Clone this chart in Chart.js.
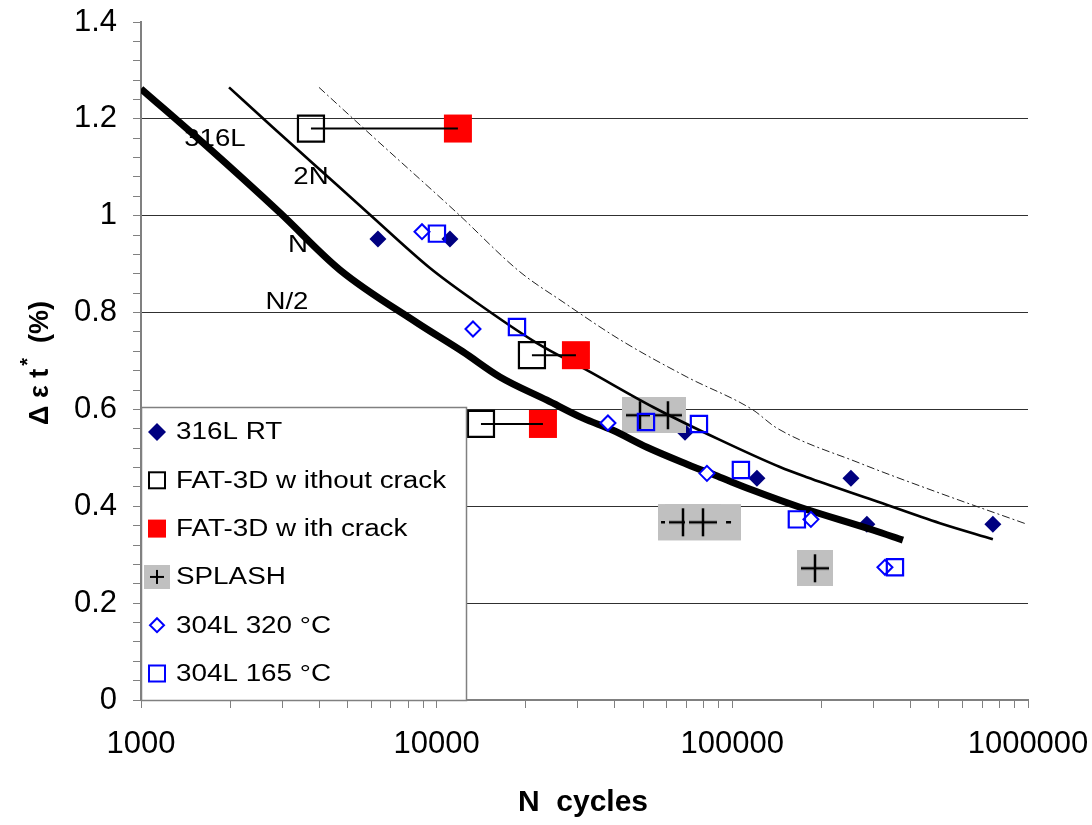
<!DOCTYPE html>
<html>
<head>
<meta charset="utf-8">
<script src="https://cdn.jsdelivr.net/npm/chart.js@4.4.0/dist/chart.umd.min.js"></script>
<style>
  html, body { margin: 0; padding: 0; background: #fff; }
</style>
</head>
<body>
<canvas id="chart" width="1092" height="825"></canvas>
<script>
// ---------------- Data ----------------
const rtX = [6330, 11090, 69160, 121100, 251800, 285200, 760700];
const rtY = [0.952, 0.952, 0.553, 0.458, 0.458, 0.363, 0.363];

const fatNoCrackX = [3757, 21000, 14120];
const fatNoCrackY = [1.18, 0.712, 0.57];
const fatCrackX = [11800, 29580, 22880];
const fatCrackY = [1.18, 0.712, 0.57];

const splashX = [48700, 60540, 68070, 79560, 190300];
const splashY = [0.588, 0.588, 0.367, 0.367, 0.272];
const splashErrLo = [null, null, 57400, 57400, null];
const splashErrHi = [null, null, 104500, 104500, null];

const l320X = [8920, 13270, 37960, 82050, 184400, 328200];
const l320Y = [0.967, 0.766, 0.572, 0.468, 0.373, 0.274];
const l165X = [10020, 18690, 51040, 77100, 106900, 165300, 354800];
const l165Y = [0.963, 0.770, 0.574, 0.570, 0.475, 0.373, 0.274];

// thick curve
const curveAX = [1000, 1672, 2951, 4710, 8580, 12270, 16370, 23610, 31240, 39460, 51420, 70210, 90800, 117400, 169300, 298700, 377600];
const curveAY = [1.262, 1.143, 1.006, 0.888, 0.779, 0.719, 0.667, 0.619, 0.582, 0.557, 0.522, 0.487, 0.460, 0.433, 0.398, 0.351, 0.330];
// medium curve
const curveBX = [1985, 2795, 3817, 5950, 9490, 13270, 21830, 32220, 53860, 90800, 144900, 178700, 298700, 503700, 760700];
const curveBY = [1.265, 1.182, 1.108, 1.002, 0.892, 0.826, 0.737, 0.681, 0.605, 0.537, 0.481, 0.460, 0.413, 0.365, 0.332];
// thin dash-dot curve
const curveCX = [3999, 6090, 11710, 19130, 26740, 41690, 70210, 117400, 141000, 270100, 503700, 991600];
const curveCY = [1.265, 1.163, 1.006, 0.884, 0.822, 0.744, 0.667, 0.599, 0.562, 0.489, 0.427, 0.363];

const curveLabels = ["316L", "2N", "N", "N/2"];
const curveLabelX = [1779, 3757, 3396, 3116];
const curveLabelY = [1.157, 1.079, 0.938, 0.822];

const legendLabels = ["316L RT", "FAT-3D w ithout crack", "FAT-3D w ith crack", "SPLASH", "304L 320 °C", "304L 165 °C"];

const xTickLabels = ["1000", "10000", "100000", "1000000"];
const yTickLabels = ["0", "0.2", "0.4", "0.6", "0.8", "1", "1.2", "1.4"];

const xTitle = "N  cycles";

// ---------------- Helpers ----------------
const FONT = '"Liberation Sans", Arial, Helvetica, sans-serif';

const pts = (xs, ys) => xs.map((x, i) => ({ x, y: ys[i] }));

// log axis ticks: 1..9 per decade
const xTickValues = [];
for (let d = 1000; d < 1000000; d *= 10) {
  for (let m = 1; m <= 9; m++) xTickValues.push(m * d);
}
xTickValues.push(1000000);

const yTickValues = [];
for (let i = 0; i <= 35; i++) yTickValues.push(Math.round(i * 0.04 * 1000) / 1000);

function yMajorIndex(v) {
  const k = Math.round(v / 0.2);
  return Math.abs(v - k * 0.2) < 1e-6 ? k : -1;
}

function splashMarker(w, h, plus, lw) {
  const c = document.createElement("canvas");
  c.width = w; c.height = h;
  const g = c.getContext("2d");
  g.fillStyle = "#c0c0c0";
  g.fillRect(0, 0, w, h);
  g.strokeStyle = "#000";
  g.lineWidth = lw;
  const cx = w / 2, cy = h / 2, p = plus / 2;
  g.beginPath();
  g.moveTo(cx - p, cy); g.lineTo(cx + p, cy);
  g.moveTo(cx, cy - p); g.lineTo(cx, cy + p);
  g.stroke();
  return c;
}
const splashImg = splashMarker(36, 36, 28, 2.5);

// ---------------- Plugins ----------------
const splashBars = {
  id: "splashBars",
  beforeDatasetsDraw(chart) {
    const { ctx, scales: { x, y } } = chart;
    ctx.save();
    splashX.forEach((v, i) => {
      if (splashErrLo[i] == null) return;
      const x0 = x.getPixelForValue(splashErrLo[i]);
      const x1 = x.getPixelForValue(splashErrHi[i]);
      const py = y.getPixelForValue(splashY[i]);
      ctx.fillStyle = "#c0c0c0";
      ctx.fillRect(x0 - 3, py - 18, x1 - x0 + 6, 36);
      ctx.strokeStyle = "#000";
      ctx.lineWidth = 2.5;
      ctx.setLineDash([5, 8]);
      ctx.beginPath();
      ctx.moveTo(x0, py);
      ctx.lineTo(x1, py);
      ctx.stroke();
    });
    ctx.restore();
  }
};

const extras = {
  id: "extras",
  afterDraw(chart) {
    const { ctx, chartArea, scales: { x, y } } = chart;
    ctx.save();

    // curve labels
    ctx.fillStyle = "#000";
    ctx.font = `24px ${FONT}`;
    ctx.textAlign = "center";
    ctx.textBaseline = "middle";
    curveLabels.forEach((t, i) => {
      ctx.save();
      ctx.translate(x.getPixelForValue(curveLabelX[i]), y.getPixelForValue(curveLabelY[i]));
      ctx.scale(1.15, 1);
      ctx.fillText(t, 0, 0);
      ctx.restore();
    });

    // legend box
    const lx = chartArea.left, ly = 407, lw = 325, lh = chartArea.bottom - 407;
    ctx.fillStyle = "#fff";
    ctx.fillRect(lx, ly, lw, lh);
    ctx.strokeStyle = "#808080";
    ctx.lineWidth = 1.5;
    ctx.strokeRect(lx + 0.5, ly + 0.5, lw, lh);

    const mx = 157;
    legendLabels.forEach((t, i) => {
      const ry = 432 + i * 48.3;
      ctx.save();
      ctx.setLineDash([]);
      if (i === 0) {
        ctx.fillStyle = "#000080";
        ctx.beginPath();
        ctx.moveTo(mx, ry - 9); ctx.lineTo(mx + 9, ry); ctx.lineTo(mx, ry + 9); ctx.lineTo(mx - 9, ry);
        ctx.closePath(); ctx.fill();
      } else if (i === 1) {
        ctx.strokeStyle = "#000"; ctx.lineWidth = 2;
        ctx.strokeRect(mx - 8, ry - 8, 16, 16);
      } else if (i === 2) {
        ctx.fillStyle = "#ff0000";
        ctx.fillRect(mx - 9, ry - 9, 18, 18);
      } else if (i === 3) {
        ctx.drawImage(splashMarker(26, 24, 14, 2), mx - 13, ry - 12);
      } else if (i === 4) {
        ctx.strokeStyle = "#0000ff"; ctx.lineWidth = 2;
        ctx.beginPath();
        ctx.moveTo(mx, ry - 7); ctx.lineTo(mx + 7, ry); ctx.lineTo(mx, ry + 7); ctx.lineTo(mx - 7, ry);
        ctx.closePath(); ctx.stroke();
      } else {
        ctx.strokeStyle = "#0000ff"; ctx.lineWidth = 2;
        ctx.strokeRect(mx - 8, ry - 8, 16, 16);
      }
      ctx.fillStyle = "#000";
      ctx.font = `23px ${FONT}`;
      ctx.textAlign = "left";
      ctx.textBaseline = "middle";
      ctx.translate(176, ry + 1);
      ctx.scale(1.21, 1);
      ctx.fillText(t, 0, 0);
      ctx.restore();
    });

    // x title
    ctx.fillStyle = "#000";
    ctx.font = `bold 30px ${FONT}`;
    ctx.textAlign = "center";
    ctx.textBaseline = "middle";
    ctx.fillText(xTitle, 583, 803);

    // y title: Δεt* (%)
    ctx.save();
    ctx.translate(48, 425);
    ctx.rotate(-Math.PI / 2);
    ctx.textAlign = "left";
    ctx.textBaseline = "alphabetic";
    ctx.font = `bold 27px ${FONT}`;
    let cx = 0;
    ctx.fillText("Δ ε t", cx, 0);
    cx += ctx.measureText("Δ ε t").width + 3;
    ctx.font = `bold 20px ${FONT}`;
    ctx.fillText("*", cx, -14);
    cx += ctx.measureText("*").width;
    ctx.font = `bold 27px ${FONT}`;
    ctx.fillText("  (%)", cx, 0);
    ctx.restore();

    ctx.restore();
  }
};

// ---------------- Chart ----------------
const connectors = fatNoCrackX.map((v, i) => ({
  data: [{ x: v, y: fatNoCrackY[i] }, { x: fatCrackX[i], y: fatCrackY[i] }],
  showLine: true, borderColor: "#000", borderWidth: 2, pointRadius: 0, order: 0
}));

const ctx = document.getElementById("chart").getContext("2d");
new Chart(ctx, {
  type: "scatter",
  data: {
    datasets: [
      { label: "316L RT", data: pts(rtX, rtY), pointStyle: "rectRot", pointRadius: 8.5,
        backgroundColor: "#000080", borderColor: "#000080", borderWidth: 0, order: 9 },
      { label: "SPLASH", data: pts(splashX, splashY), pointStyle: splashImg, pointRadius: 5, order: 8 },
      { label: "curveC", data: pts(curveCX, curveCY), showLine: true, borderColor: "#222", borderWidth: 1,
        borderDash: [8, 3, 2, 3], pointRadius: 0, cubicInterpolationMode: "monotone", order: 7 },
      { label: "curveA", data: pts(curveAX, curveAY), showLine: true, borderColor: "#000", borderWidth: 7,
        pointRadius: 0, cubicInterpolationMode: "monotone", order: 6 },
      { label: "curveB", data: pts(curveBX, curveBY), showLine: true, borderColor: "#000", borderWidth: 2.6,
        pointRadius: 0, cubicInterpolationMode: "monotone", order: 5 },
      { label: "304L 320 °C", data: pts(l320X, l320Y), pointStyle: "rectRot", pointRadius: 7.5,
        backgroundColor: "#fff", borderColor: "#0000ff", borderWidth: 2, order: 4 },
      { label: "304L 165 °C", data: pts(l165X, l165Y), pointStyle: "rect", pointRadius: 11.5,
        backgroundColor: "rgba(255,255,255,0)", borderColor: "#0000ff", borderWidth: 2.2, order: 3 },
      { label: "FAT-3D without crack", data: pts(fatNoCrackX, fatNoCrackY), pointStyle: "rect", pointRadius: 18.4,
        backgroundColor: "rgba(255,255,255,0)", borderColor: "#000", borderWidth: 2.2, order: 2 },
      { label: "FAT-3D with crack", data: pts(fatCrackX, fatCrackY), pointStyle: "rect", pointRadius: 19.8,
        backgroundColor: "#ff0000", borderColor: "#ff0000", borderWidth: 0, order: 2 },
      ...connectors
    ]
  },
  options: {
    responsive: false,
    animation: false,
    events: [],
    layout: { padding: { top: 22, right: 64, left: 0, bottom: 0 } },
    plugins: { legend: { display: false }, tooltip: { enabled: false } },
    scales: {
      x: {
        type: "logarithmic",
        min: 1000, max: 1000000,
        afterBuildTicks: s => { s.ticks = xTickValues.map(v => ({ value: v })); },
        afterFit: s => { s.height = 125; s.paddingLeft = 0; s.paddingRight = 0; },
        ticks: {
          autoSkip: false, maxRotation: 0, minRotation: 0, padding: 18, color: "#000",
          font: { size: 31, family: FONT },
          callback: v => (xTickLabels.includes(String(v)) ? String(v) : "")
        },
        grid: { drawOnChartArea: false, tickLength: 8, tickColor: "#808080", tickWidth: 1 },
        border: { color: "#808080", width: 2 }
      },
      y: {
        min: 0, max: 1.4,
        afterBuildTicks: s => { s.ticks = yTickValues.map(v => ({ value: v })); },
        afterFit: s => { s.width = 141; s.paddingTop = 0; s.paddingBottom = 0; },
        ticks: {
          autoSkip: false, padding: 16, color: "#000",
          font: { size: 31, family: FONT },
          callback: v => { const k = yMajorIndex(v); return k >= 0 ? yTickLabels[k] : ""; }
        },
        grid: {
          color: c => { const k = c.tick ? yMajorIndex(c.tick.value) : -1; return k > 0 && k < 7 ? "#303030" : "rgba(0,0,0,0)"; },
          tickColor: "#808080", tickLength: 8, lineWidth: 1
        },
        border: { color: "#808080", width: 2 }
      }
    }
  },
  plugins: [splashBars, extras]
});
</script>
</body>
</html>
